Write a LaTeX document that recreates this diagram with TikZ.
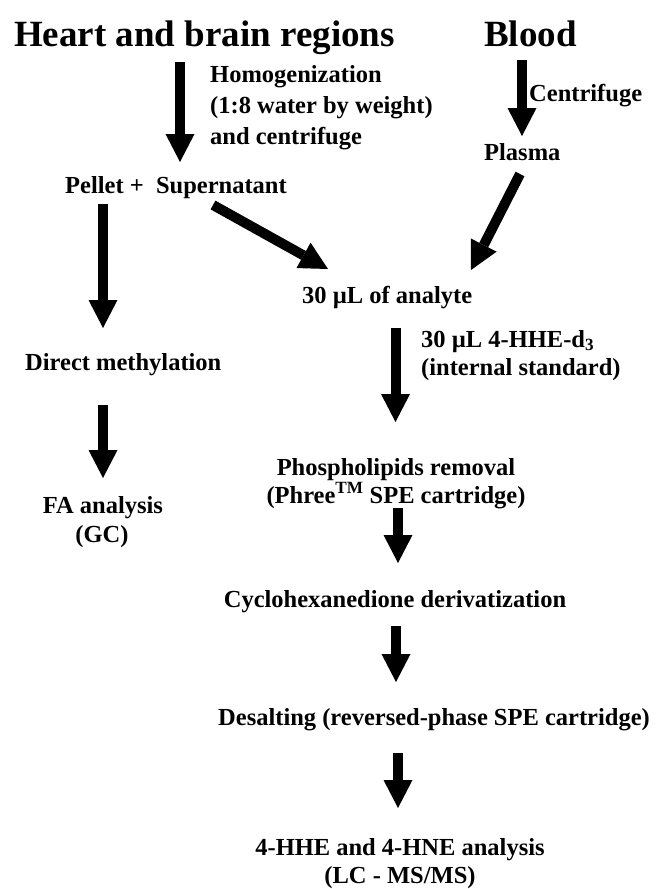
\documentclass[tikz,border=0pt]{standalone}
\usepackage{fontspec}
\setmainfont{Liberation Serif}
\usetikzlibrary{arrows.meta}
\begin{document}
\begin{tikzpicture}[x=1pt,y=-1pt,
  lbl/.style={inner sep=0pt, font=\fontsize{24.5}{29}\selectfont\bfseries},
  ttl/.style={inner sep=0pt, font=\fontsize{37}{44}\selectfont\bfseries},
  flow/.style={line width=10pt, -{Triangle[width=29pt,length=28pt,line width=0pt]}}]
\useasboundingbox[fill=white] (0,0) rectangle (662,889);
% titles
\node[ttl,anchor=base west] (heart) at (14,46) {Heart and brain regions};
\node[ttl,anchor=base west] (blood) at (484,46) {Blood};
% side labels
\node[lbl,anchor=base west] (hom1) at (210,82) {Homogenization};
\node[lbl,anchor=base west] (hom2) at (210,113) {(1:8 water by weight)};
\node[lbl,anchor=base west] (hom3) at (210,144) {and centrifuge};
\node[lbl,anchor=base west] (cent) at (529,101) {Centrifuge};
\node[lbl,anchor=base west] (plasma) at (484,160) {Plasma};
\node[lbl,anchor=base west] (pellet) at (65,193) {Pellet +\hspace{0.5em}Supernatant};
\node[lbl,anchor=base west] (analyte) at (302,303) {30 µL of analyte};
\node[lbl,anchor=base west] (std1) at (421,347) {30 µL 4-HHE-d\textsubscript{3}};
\node[lbl,anchor=base west] (std2) at (421,375) {(internal standard)};
\node[lbl,anchor=base west] (direct) at (25,370) {Direct methylation};
\node[lbl,anchor=base] (fa1) at (103,513) {FA analysis};
\node[lbl,anchor=base] (fa2) at (102,542) {(GC)};
\node[lbl,anchor=base] (phos1) at (396,475) {Phospholipids removal};
\node[lbl,anchor=base] (phos2) at (396,503) {(Phree\textsuperscript{TM} SPE cartridge)};
\node[lbl,anchor=base] (cyclo) at (395,607) {Cyclohexanedione derivatization};
\node[lbl,anchor=base west] (desalt) at (218,725) {Desalting (reversed-phase SPE cartridge)};
\node[lbl,anchor=base] (hhe1) at (400,855) {4-HHE and 4-HNE analysis};
\node[lbl,anchor=base] (hhe2) at (400,883) {(LC - MS/MS)};
% arrow end points
\coordinate (a1s) at (180,62);   \coordinate (a1e) at (180,162);
\coordinate (a2s) at (522,60);   \coordinate (a2e) at (522,136);
\coordinate (a3s) at (520,174);  \coordinate (a3e) at (471,270);
\coordinate (a4s) at (213,205);  \coordinate (a4e) at (328,269);
\coordinate (a5s) at (103,204);  \coordinate (a5e) at (103,328);
\coordinate (a6s) at (395.5,328);\coordinate (a6e) at (395.5,422);
\coordinate (a7s) at (103,405);  \coordinate (a7e) at (103,478);
\coordinate (a8s) at (398,508);  \coordinate (a8e) at (398,563);
\coordinate (a9s) at (396,626);  \coordinate (a9e) at (396,682);
\coordinate (a10s) at (398,753); \coordinate (a10e) at (398,808);
% arrows
\draw[flow] (a1s) -- (a1e);
\draw[flow] (a2s) -- (a2e);
\draw[flow] (a3s) -- (a3e);
\draw[flow] (a4s) -- (a4e);
\draw[flow] (a5s) -- (a5e);
\draw[flow] (a6s) -- (a6e);
\draw[flow] (a7s) -- (a7e);
\draw[flow] (a8s) -- (a8e);
\draw[flow] (a9s) -- (a9e);
\draw[flow] (a10s) -- (a10e);
\end{tikzpicture}
\end{document}
